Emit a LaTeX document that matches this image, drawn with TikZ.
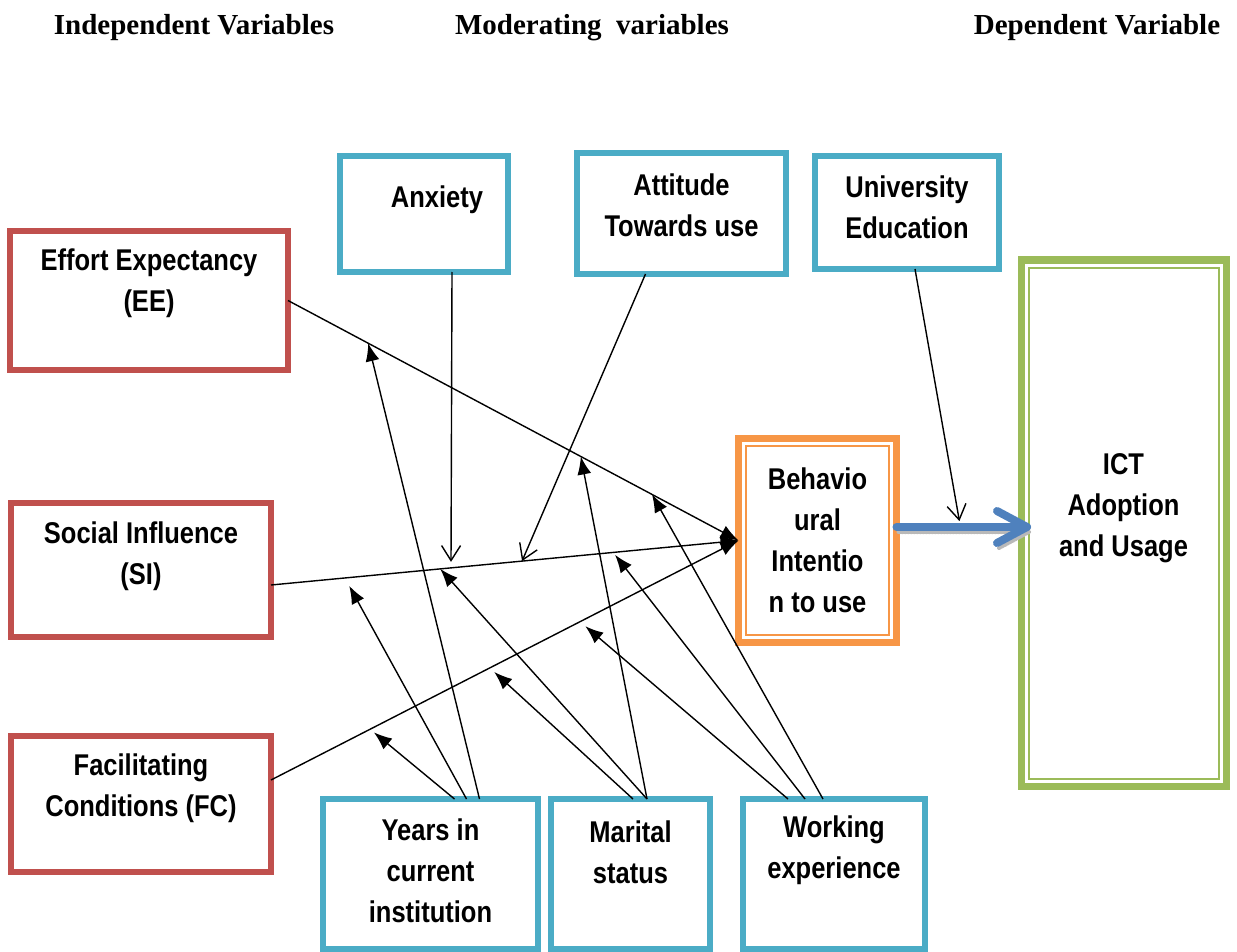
\documentclass[tikz,border=0pt]{standalone}
\usepackage{fontspec}
\newfontfamily\boxfont{Liberation Sans}[FakeStretch=0.85]
\newfontfamily\headfont{Liberation Serif}
\usetikzlibrary{arrows.meta,calc}
\definecolor{indred}{HTML}{C0504D}
\definecolor{modblue}{HTML}{4BACC6}
\definecolor{intorange}{HTML}{F79646}
\definecolor{depgreen}{HTML}{9BBB59}
\definecolor{flowblue}{HTML}{4F81BD}
\begin{document}
\begin{tikzpicture}[x=1pt,y=-1pt,
    box/.style={draw=#1,line width=6pt,fill=white,outer sep=0pt,inner sep=0pt},
    dbox/.style={draw=#1,line width=7pt,fill=white,outer sep=0pt,inner sep=0pt},
    txt/.style={align=center,font=\boxfont\bfseries\fontsize{30}{41}\selectfont},
    head/.style={font=\headfont\bfseries\fontsize{29}{34}\selectfont},
    arrow/.style={-{Latex[length=18pt,width=14pt]},draw=black,line width=1.4pt},
    barb/.style={-{Straight Barb[length=15pt,width=19pt]},draw=black,line width=1.4pt},
    flow/.style={draw=flowblue,line width=8pt,line cap=round,line join=round}
  ]
    \useasboundingbox (0,0) rectangle (1237,952);
    % headings
    \node[head] (h-ind) at (194,28) {Independent Variables};
    \node[head] (h-mod) at (592,28) {Moderating\ \ variables};
    \node[head] (h-dep) at (1097,28) {Dependent Variable};
    % independent variables
    \node[box=indred,minimum width=278pt,minimum height=139pt] (ee) at (149,300.5) {};
    \node[box=indred,minimum width=260pt,minimum height=134pt] (si) at (141,570) {};
    \node[box=indred,minimum width=260pt,minimum height=136pt] (fc) at (141,804) {};
    \node[txt] (ee-t) at ($(ee)+(0,-17)$) {Effort Expectancy\\(EE)};
    \node[txt] (si-t) at ($(si)+(0,-14)$) {Social Influence\\(SI)};
    \node[txt] (fc-t) at ($(fc)+(0,-16)$) {Facilitating\\Conditions (FC)};
    % moderating variables (top)
    \node[box=modblue,minimum width=168pt,minimum height=116pt] (anx) at (424,214) {};
    \node[box=modblue,minimum width=209pt,minimum height=121pt] (att) at (681.5,213.5) {};
    \node[box=modblue,minimum width=184pt,minimum height=113pt] (uni) at (907,212.5) {};
    \node[txt] (anx-t) at ($(anx)+(13,-14)$) {Anxiety};
    \node[txt] (att-t) at ($(att)+(0,-8)$) {Attitude\\Towards use};
    \node[txt] (uni-t) at ($(uni)+(0,-5)$) {University\\Education};
    % moderating variables (bottom)
    \node[box=modblue,minimum width=215pt,minimum height=150pt] (yrs) at (430.5,874) {};
    \node[box=modblue,minimum width=159pt,minimum height=150pt] (mar) at (630.5,874) {};
    \node[box=modblue,minimum width=182pt,minimum height=150pt] (wrk) at (834,874) {};
    \node[txt] (yrs-t) at ($(yrs)+(0,-3)$) {Years in\\current\\institution};
    \node[txt] (mar-t) at ($(mar)+(0,-22)$) {Marital\\status};
    \node[txt] (wrk-t) at ($(wrk)+(0,-24)$) {Working\\experience};
    % intention and dependent variable
    \node[dbox=intorange,minimum width=158pt,minimum height=204pt] (bi) at (817.5,540.5) {};
    \draw[intorange,line width=2pt] ([shift={(7.5,7.5)}]bi.north west) rectangle ([shift={(-7.5,-7.5)}]bi.south east);
    \node[txt] (bi-t) at (bi) {Behavio\\ural\\Intentio\\n to use};
    \node[dbox=depgreen,minimum width=205pt,minimum height=526pt] (ict) at (1123.5,523) {};
    \draw[depgreen,line width=2pt] ([shift={(7.5,7.5)}]ict.north west) rectangle ([shift={(-7.5,-7.5)}]ict.south east);
    \node[txt] (ict-t) at ($(ict)+(0,-15)$) {ICT\\Adoption\\and Usage};

    % main paths into intention
    \coordinate (si-o) at ($(si.east)+(0,15)$);
    \coordinate (fc-o) at ($(fc.east)+(0,-24)$);
    \draw[arrow] (ee.east) -- (bi.west);
    \draw[arrow] (si-o) -- (bi.west);
    \draw[arrow] (fc-o) -- (bi.west);

    % points on the paths hit by moderators
    \coordinate (ee-y) at ($(ee.east)!0.178!(bi.west)$);
    \coordinate (ee-m) at ($(ee.east)!0.650!(bi.west)$);
    \coordinate (ee-w) at ($(ee.east)!0.808!(bi.west)$);
    \coordinate (si-y) at ($(si-o)!0.158!(bi.west)$);
    \coordinate (si-a) at ($(si-o)!0.385!(bi.west)$);
    \coordinate (si-m) at ($(si-o)!0.362!(bi.west)$);
    \coordinate (si-t2) at ($(si-o)!0.537!(bi.west)$);
    \coordinate (si-w) at ($(si-o)!0.732!(bi.west)$);
    \coordinate (fc-y) at ($(fc-o)!0.212!(bi.west)$);
    \coordinate (fc-m) at ($(fc-o)!0.468!(bi.west)$);
    \coordinate (fc-w) at ($(fc-o)!0.661!(bi.west)$);

    % top moderators
    \draw[barb,shorten >=6pt] ($(anx.south)+(28,0)$) -- (si-a);
    \draw[barb] ($(att.south)+(-36,0)$) -- (si-t2);

    % bottom moderators
    \draw[arrow,shorten >=5pt] ($(yrs.north)+(24,0)$) -- (fc-y);
    \draw[arrow,shorten >=9pt] ($(yrs.north)+(36,0)$) -- (si-y);
    \draw[arrow] ($(yrs.north)+(49,0)$) -- (ee-y);
    \draw[arrow,shorten >=6pt] ($(mar.north)+(2.5,0)$) -- (fc-m);
    \draw[arrow] ($(mar.north)+(16.5,0)$) -- (si-m);
    \draw[arrow] ($(mar.north)+(16.5,0)$) -- (ee-m);
    \draw[arrow,shorten >=7pt] ($(wrk.north)+(-46,0)$) -- (fc-w);
    \draw[arrow,shorten >=3pt] ($(wrk.north)+(-29,0)$) -- (si-w);
    \draw[arrow] ($(wrk.north)+(-11,0)$) -- (ee-w);

    % intention to adoption
    \coordinate (ba-s) at ($(bi.east)+(0,-13.5)$);
    \coordinate (ba-e) at ($(ict.west)+(6,4)$);
    \draw[gray!55,line width=4pt,dash pattern=on 1.5pt off 1.5pt,line cap=round]
      ($(ba-s)+(2,5)$) -- ($(ba-e)+(2,5)$) ($(ba-e)+(-28,21)$) -- ($(ba-e)+(2,5)$);
    \draw[flow] (ba-s) -- (ba-e);
    \draw[flow] ($(ba-e)+(-30,-16)$) -- (ba-e) -- ($(ba-e)+(-30,16)$);
    \coordinate (u-tip) at ($(ba-s)!0.49!(ba-e)$);
    \draw[barb,shorten >=6pt] ($(uni.south)+(8,0)$) -- (u-tip);
\end{tikzpicture}
\end{document}
